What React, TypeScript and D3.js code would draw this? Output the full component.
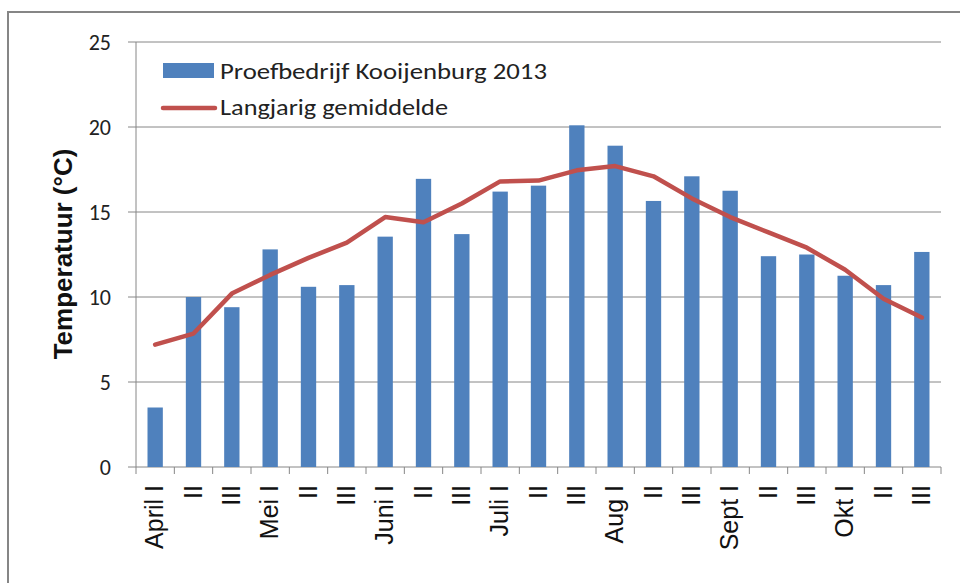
import React from 'react';
import * as d3 from 'd3';

const categories = [
  'April I', 'II', 'III', 'Mei I', 'II', 'III', 'Juni I', 'II', 'III',
  'Juli I', 'II', 'III', 'Aug I', 'II', 'III', 'Sept I', 'II', 'III',
  'Okt I', 'II', 'III',
];
const kooijenburg2013 = [
  3.5, 10.0, 9.4, 12.8, 10.6, 10.7, 13.55, 16.95, 13.7,
  16.2, 16.55, 20.1, 18.9, 15.65, 17.1, 16.25, 12.4, 12.5,
  11.25, 10.7, 12.65,
];
const langjarig = [
  7.2, 7.85, 10.2, 11.3, 12.3, 13.2, 14.7, 14.4, 15.5,
  16.8, 16.85, 17.45, 17.7, 17.1, 15.8, 14.7, 13.8, 12.9,
  11.6, 9.9, 8.8,
];
const yTicks = [0, 5, 10, 15, 20, 25];
const seriesNames = ['Proefbedrijf Kooijenburg 2013', 'Langjarig gemiddelde'];

const W = 960;
const H = 583;
const margin = { top: 42, right: 19, bottom: 116, left: 136 };
const calibriLike = "Carlito, Lato, 'Open Sans', sans-serif";
const arial = "'Liberation Sans', Arial, sans-serif";

export default function App() {
  const idx = categories.map((_, i) => i);
  const x = d3
    .scaleBand<number>()
    .domain(idx)
    .range([margin.left, W - margin.right])
    .paddingInner(0.6)
    .paddingOuter(0.3);
  const step = x.step();
  const y = d3.scaleLinear().domain([0, 25]).range([H - margin.bottom, margin.top]);
  const cx = (i: number) => (x(i) as number) + x.bandwidth() / 2;

  const line = d3
    .line<number>()
    .x((_, i) => cx(i))
    .y((d) => y(d));

  const left = margin.left;
  const right = W - margin.right;
  const base = y(0);
  const grid = '#868686';

  return (
    <svg width={W} height={H} style={{ position: 'absolute', left: 0, top: 0 }}>
      <rect x={0} y={0} width={W} height={H} fill="#fff" />
      {/* outer chart border */}
      <path d={`M8,${H} V12 H${W}`} fill="none" stroke={grid} strokeWidth={2} />

      {/* gridlines and y ticks */}
      {yTicks.map((t) => (
        <g key={t}>
          <line x1={left - 8} x2={right} y1={y(t)} y2={y(t)} stroke={grid} strokeWidth={1} />
          <text
            x={111}
            y={y(t) + 8}
            textAnchor="end"
            fontFamily={calibriLike}
            fontSize={22}
            fill="#222"
          >
            {t}
          </text>
        </g>
      ))}
      <line x1={left} x2={left} y1={y(25)} y2={base} stroke={grid} strokeWidth={1} />

      {/* x ticks */}
      {d3.range(categories.length + 1).map((i) => (
        <line
          key={i}
          x1={left + i * step}
          x2={left + i * step}
          y1={base}
          y2={base + 7}
          stroke={grid}
          strokeWidth={1}
        />
      ))}

      {/* bars */}
      {kooijenburg2013.map((v, i) => (
        <rect
          key={i}
          x={x(i)}
          y={y(v)}
          width={x.bandwidth()}
          height={base - y(v)}
          fill="#4F81BD"
        />
      ))}

      {/* long-term average */}
      <path
        d={line(langjarig) || ''}
        fill="none"
        stroke="#C0504D"
        strokeWidth={4.5}
        strokeLinejoin="round"
        strokeLinecap="round"
      />

      {/* x labels */}
      {categories.map((c, i) => (
        <text
          key={i}
          transform={`translate(${cx(i) + 8},${base + 18}) rotate(-90)`}
          textAnchor="end"
          fontFamily={arial}
          fontSize={25}
          fill="#111"
        >
          {c}
        </text>
      ))}

      {/* y title */}
      <text
        transform={`translate(72,254) rotate(-90)`}
        textAnchor="middle"
        fontFamily={arial}
        fontWeight="bold"
        fontSize={26}
        fill="#111"
      >
        Temperatuur (°C)
      </text>

      {/* legend */}
      <rect x={163} y={63} width={51} height={15} fill="#4F81BD" />
      <text
        x={220}
        y={79}
        fontFamily={calibriLike}
        fontSize={22}
        textLength={327}
        lengthAdjust="spacingAndGlyphs"
        fill="#222"
      >
        {seriesNames[0]}
      </text>
      <line x1={163} x2={215} y1={108} y2={108} stroke="#C0504D" strokeWidth={4.5} strokeLinecap="round" />
      <text
        x={220}
        y={115}
        fontFamily={calibriLike}
        fontSize={22}
        textLength={228}
        lengthAdjust="spacingAndGlyphs"
        fill="#222"
      >
        {seriesNames[1]}
      </text>
    </svg>
  );
}
